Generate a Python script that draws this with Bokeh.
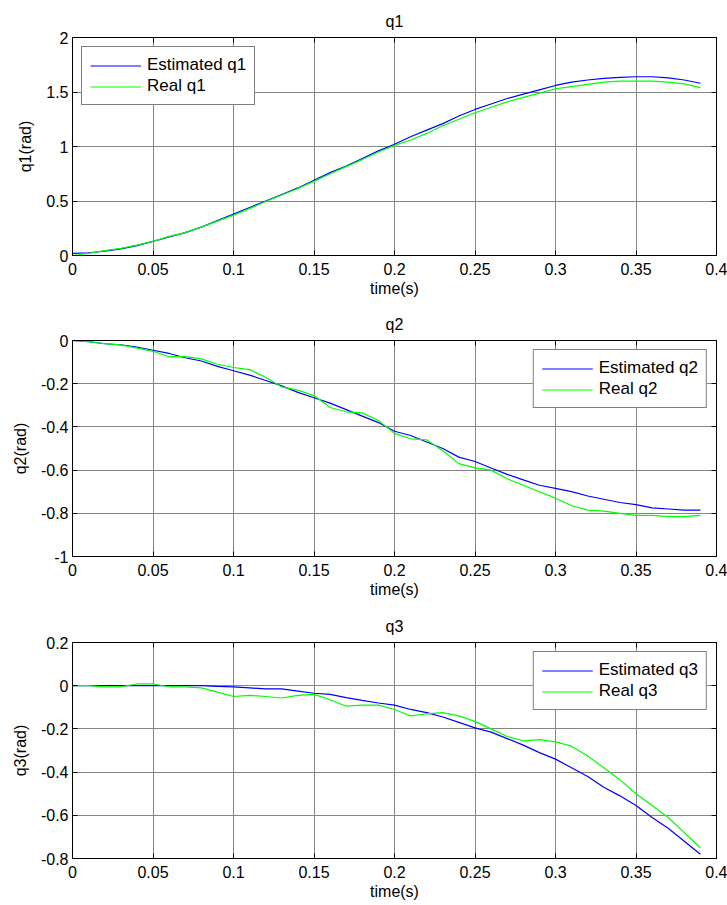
from bokeh.plotting import figure
from bokeh.layouts import column
from bokeh.models import Range1d, FixedTicker, LinearAxis, Legend, LegendItem
from bokeh.embed import file_html
from bokeh.resources import INLINE

# ---------------- data ----------------
time_s = [0.00, 0.01, 0.02, 0.03, 0.04, 0.05, 0.06, 0.07, 0.08, 0.09,
          0.10, 0.11, 0.12, 0.13, 0.14, 0.15, 0.16, 0.17, 0.18, 0.19,
          0.20, 0.21, 0.22, 0.23, 0.24, 0.25, 0.26, 0.27, 0.28, 0.29,
          0.30, 0.31, 0.32, 0.33, 0.34, 0.35, 0.36, 0.37, 0.38, 0.39]

est_q1 = [0.02, 0.025, 0.04, 0.06, 0.09, 0.13, 0.17, 0.21, 0.26, 0.32,
          0.38, 0.44, 0.50, 0.56, 0.62, 0.69, 0.76, 0.82, 0.89, 0.96,
          1.02, 1.09, 1.15, 1.21, 1.28, 1.34, 1.39, 1.44, 1.48, 1.52,
          1.56, 1.59, 1.61, 1.625, 1.635, 1.64, 1.64, 1.63, 1.61, 1.58]
real_q1 = [0.0, 0.02, 0.045, 0.065, 0.095, 0.13, 0.175, 0.21, 0.26, 0.315,
           0.37, 0.43, 0.495, 0.555, 0.615, 0.68, 0.75, 0.815, 0.88, 0.95,
           1.01, 1.06, 1.12, 1.19, 1.25, 1.31, 1.36, 1.41, 1.45, 1.49,
           1.53, 1.55, 1.57, 1.59, 1.60, 1.60, 1.60, 1.59, 1.575, 1.54]

est_q2 = [0.0, -0.005, -0.015, -0.02, -0.03, -0.045, -0.06, -0.08, -0.095, -0.12,
          -0.14, -0.16, -0.185, -0.21, -0.24, -0.265, -0.29, -0.32, -0.35, -0.38,
          -0.42, -0.44, -0.47, -0.50, -0.54, -0.56, -0.59, -0.62, -0.645, -0.67,
          -0.685, -0.70, -0.72, -0.735, -0.75, -0.76, -0.775, -0.78, -0.785, -0.785]
real_q2 = [0.0, -0.005, -0.015, -0.02, -0.035, -0.05, -0.075, -0.075, -0.085, -0.11,
           -0.125, -0.135, -0.17, -0.215, -0.23, -0.255, -0.31, -0.33, -0.335, -0.37,
           -0.43, -0.455, -0.46, -0.51, -0.57, -0.59, -0.60, -0.64, -0.67, -0.70,
           -0.73, -0.765, -0.785, -0.79, -0.80, -0.81, -0.81, -0.815, -0.815, -0.81]

est_q3 = [0.0, 0.0, 0.0, 0.0, 0.0, 0.0, 0.0, 0.0, 0.0, -0.003,
          -0.005, -0.01, -0.015, -0.015, -0.025, -0.035, -0.04, -0.055, -0.068, -0.08,
          -0.09, -0.11, -0.125, -0.145, -0.17, -0.195, -0.215, -0.245, -0.275, -0.31,
          -0.34, -0.38, -0.42, -0.47, -0.51, -0.555, -0.61, -0.66, -0.72, -0.78]
real_q3 = [0.0, 0.0, -0.005, -0.005, 0.008, 0.008, -0.005, -0.005, -0.01, -0.03,
           -0.05, -0.045, -0.05, -0.057, -0.045, -0.04, -0.065, -0.095, -0.09, -0.09,
           -0.11, -0.14, -0.13, -0.125, -0.14, -0.165, -0.2, -0.235, -0.255, -0.25,
           -0.26, -0.28, -0.325, -0.38, -0.435, -0.5, -0.555, -0.61, -0.68, -0.75]

x_ticks = [0, 0.05, 0.1, 0.15, 0.2, 0.25, 0.3, 0.35, 0.4]
x_tick_labels = ["0", "0.05", "0.1", "0.15", "0.2", "0.25", "0.3", "0.35", "0.4"]
y1_ticks = [0, 0.5, 1, 1.5, 2]
y1_tick_labels = ["0", "0.5", "1", "1.5", "2"]
y2_ticks = [-1, -0.8, -0.6, -0.4, -0.2, 0]
y2_tick_labels = ["-1", "-0.8", "-0.6", "-0.4", "-0.2", "0"]
y3_ticks = [-0.8, -0.6, -0.4, -0.2, 0, 0.2]
y3_tick_labels = ["-0.8", "-0.6", "-0.4", "-0.2", "0", "0.2"]

FONT = "Liberation Sans"
FS = "16px"
GRID = "#858585"


def make_panel(title, ylab, est, real, labels, yr, yticks, ylabels,
               legend_loc, fh, ftop, fbottom, height):
    p = figure(width=727, height=height, output_backend="svg",
               toolbar_location=None, x_range=Range1d(0, 0.4),
               y_range=Range1d(*yr), frame_width=644, frame_height=fh,
               min_border_left=72, min_border_right=11,
               min_border_top=ftop, min_border_bottom=fbottom)
    p.background_fill_color = "white"
    p.border_fill_color = "white"
    p.outline_line_color = "black"
    p.outline_line_width = 1

    p.title.text = title
    p.title.align = "center"
    p.title.text_font = FONT
    p.title.text_font_size = FS
    p.title.text_font_style = "normal"
    p.title.text_color = "black"
    p.title.standoff = 16

    xoverrides = {v: s for v, s in zip(x_ticks, x_tick_labels)}
    yoverrides = {v: s for v, s in zip(yticks, ylabels)}

    for ax in p.xaxis:
        ax.ticker = FixedTicker(ticks=x_ticks)
        ax.major_label_overrides = xoverrides
        ax.axis_label = "time(s)"
        ax.axis_label_standoff = 2
        ax.major_label_standoff = 7
    for ax in p.yaxis:
        ax.ticker = FixedTicker(ticks=yticks)
        ax.major_label_overrides = yoverrides
        ax.axis_label = ylab
        ax.axis_label_standoff = 9
        ax.major_label_standoff = 4

    for ax in list(p.xaxis) + list(p.yaxis):
        ax.axis_label_text_font = FONT
        ax.axis_label_text_font_size = FS
        ax.axis_label_text_font_style = "normal"
        ax.axis_label_text_color = "black"
        ax.major_label_text_font = FONT
        ax.major_label_text_font_size = FS
        ax.major_label_text_color = "black"
        ax.major_tick_in = 5
        ax.major_tick_out = 0
        ax.minor_tick_in = 0
        ax.minor_tick_out = 0
        ax.axis_line_color = "black"
        ax.major_tick_line_color = "black"

    # mirrored ticks on top and right
    top = LinearAxis(ticker=FixedTicker(ticks=x_ticks), major_label_text_font_size="1px",
                     major_label_text_alpha=0, major_tick_in=5, major_tick_out=0,
                     minor_tick_in=0, minor_tick_out=0, major_label_standoff=0)
    right = LinearAxis(ticker=FixedTicker(ticks=yticks), major_label_text_font_size="1px",
                       major_label_text_alpha=0, major_tick_in=5, major_tick_out=0,
                       minor_tick_in=0, minor_tick_out=0, major_label_standoff=0)
    p.add_layout(top, "above")
    p.add_layout(right, "right")

    p.xgrid.ticker = FixedTicker(ticks=x_ticks)
    p.ygrid.ticker = FixedTicker(ticks=yticks)
    for g in (p.xgrid, p.ygrid):
        g.grid_line_color = GRID
        g.grid_line_width = 1

    r1 = p.line(time_s, est, line_color="#0000ff", line_width=1.2)
    r2 = p.line(time_s, real, line_color="#00ff00", line_width=1.2)

    leg = Legend(items=[LegendItem(label=labels[0], renderers=[r1]),
                        LegendItem(label=labels[1], renderers=[r2])],
                 location=legend_loc)
    leg.margin = 9
    leg.padding = 8
    leg.spacing = 1
    leg.glyph_width = 51
    leg.glyph_height = 19
    leg.label_height = 19
    leg.label_standoff = 6
    leg.label_text_font = FONT
    leg.label_text_font_size = "17px"
    leg.label_text_color = "black"
    leg.border_line_color = "black"
    leg.border_line_width = 1.5
    leg.background_fill_color = "white"
    leg.background_fill_alpha = 1
    p.add_layout(leg, "center")
    return p


p1 = make_panel("q1", "q1(rad)", est_q1, real_q1, ["Estimated q1", "Real q1"],
                (0, 2), y1_ticks, y1_tick_labels, "top_left", 218, 37, 47, 302)
p2 = make_panel("q2", "q2(rad)", est_q2, real_q2, ["Estimated q2", "Real q2"],
                (-1, 0), y2_ticks, y2_tick_labels, "top_right", 216, 38, 48, 302)
p3 = make_panel("q3", "q3(rad)", est_q3, real_q3, ["Estimated q3", "Real q3"],
                (-0.8, 0.2), y3_ticks, y3_tick_labels, "top_right", 216, 38, 47, 301)

layout = column(p1, p2, p3, spacing=0)
open("out.html", "w").write(file_html(layout, INLINE))
